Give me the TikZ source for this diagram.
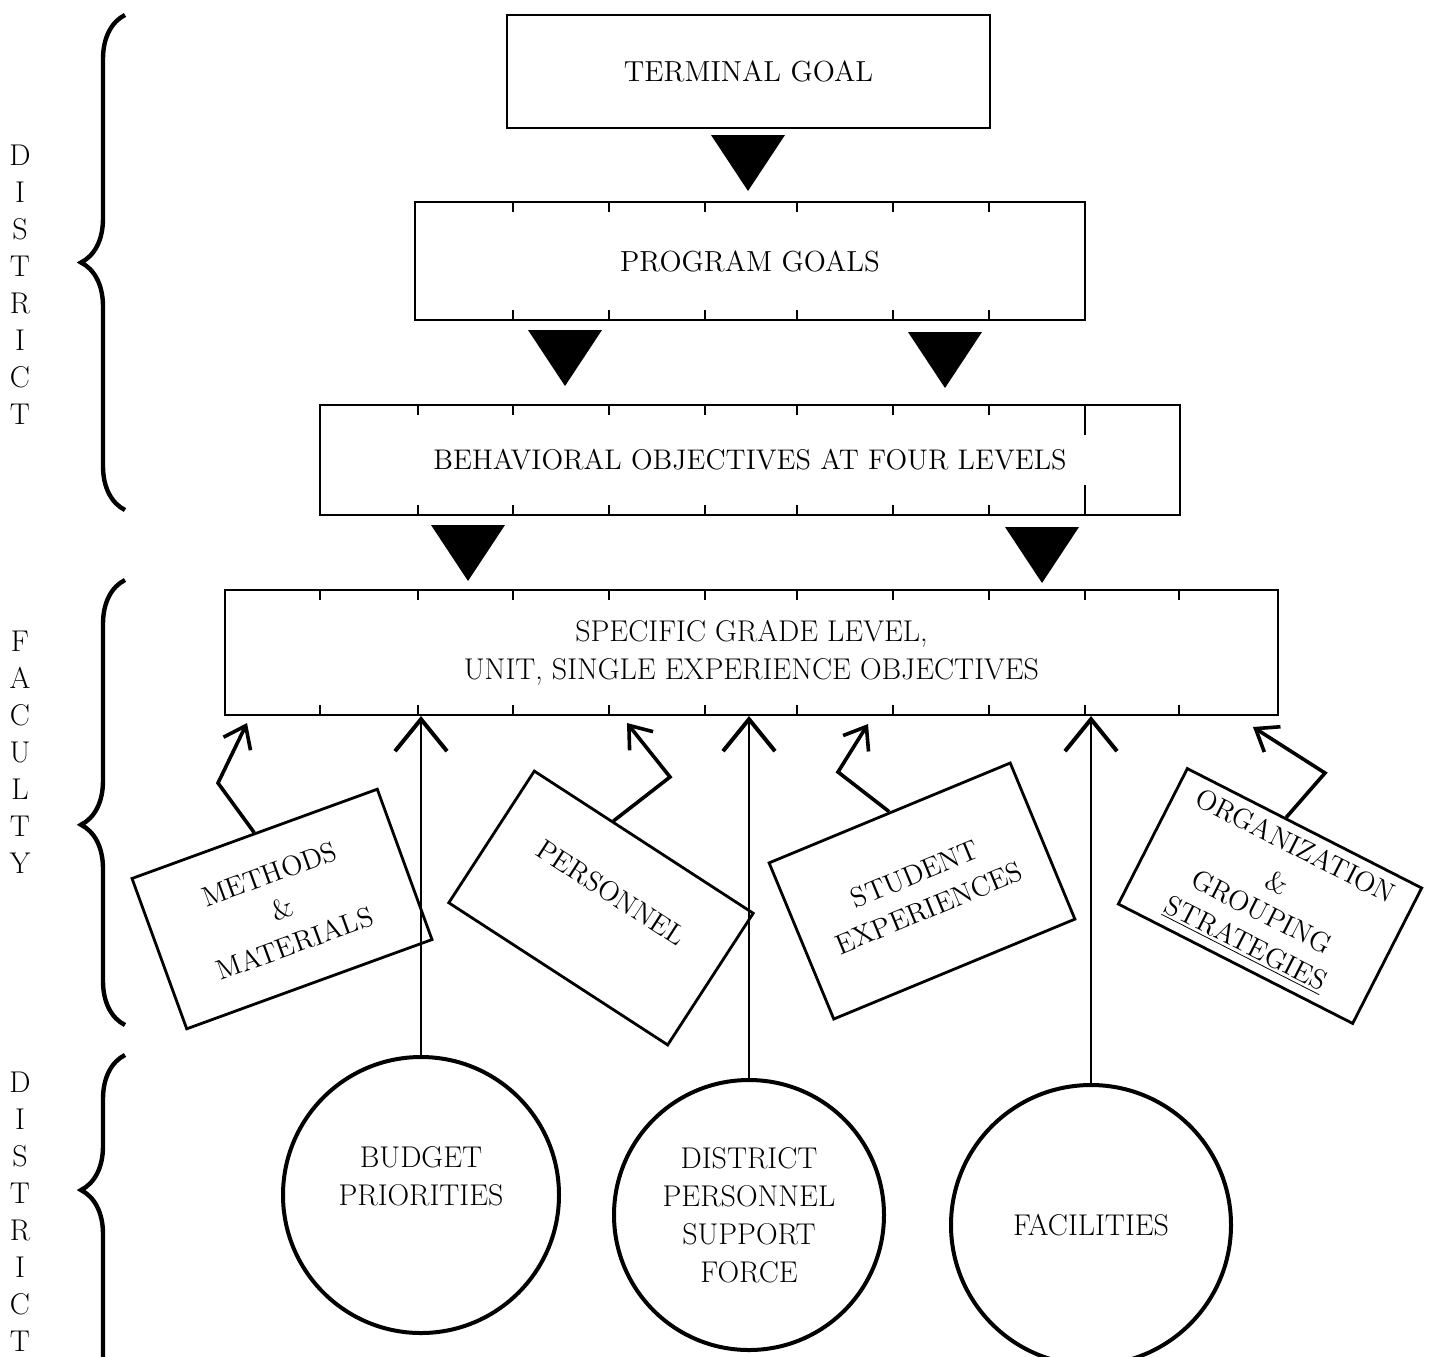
\documentclass[tikz,border=0pt]{standalone}
\usepackage{fontspec}
\usetikzlibrary{arrows.meta,decorations.pathreplacing,calc}
\newcommand\boxfont{\fontsize{14.5}{18.5}\selectfont}
\newcommand\widefont{\fontsize{15}{19}\selectfont}
\tikzset{
  goal/.style={draw, line width=1pt, inner sep=0pt, align=center, font=\boxfont},
  notch/.style={line width=1.3pt},
  tilted/.style={draw, line width=1.4pt, inner sep=0pt, align=center, font=\fontsize{14}{18.5}\selectfont},
  source/.style={draw, circle, line width=2pt, inner sep=0pt, align=center, font=\widefont},
  feed/.style={line width=1.8pt, -{Straight Barb[length=10pt,width=15pt]}},
  supply/.style={line width=1.1pt, -{Straight Barb[length=16pt,width=26pt,line width=2pt]}},
  bracket/.style={decorate, decoration={brace, amplitude=22pt}, line width=2.2pt},
  side/.style={align=center, inner sep=0pt, font=\fontsize{15}{18.5}\selectfont},
  tri/.pic={\fill (-37,0) -- (37,0) -- (0,56) -- cycle;}
}
\begin{document}
\begin{tikzpicture}[x=0.5pt, y=-0.5pt]
\useasboundingbox (0,0) rectangle (1429,1356);
% side labels and braces
\node[side] (dis1) at (20,285) {D\\I\\S\\T\\R\\I\\C\\T};
\node[side] (fac1) at (20,752) {F\\A\\C\\U\\L\\T\\Y};
\node[side] (dis2) at (20,1212) {D\\I\\S\\T\\R\\I\\C\\T};
\draw[bracket] (125,510) -- (125,15);
\draw[bracket, decoration={aspect=0.45}] (125,1025) -- (125,580);
\draw[bracket, decoration={aspect=0.63}] (125,1420) -- (125,1055);
% goal boxes
\node[goal, minimum width=241.5pt, minimum height=56.5pt] (tg) at (748.5,71.5) {TERMINAL GOAL};
\node[goal, minimum width=335pt, minimum height=59pt] (pg) at (750,261) {PROGRAM GOALS};
\node[goal, minimum width=430pt, minimum height=55pt, font=\fontsize{14.2}{18.5}\selectfont] (bo) at (750,460) {BEHAVIORAL OBJECTIVES AT FOUR LEVELS};
\node[goal, minimum width=526.5pt, minimum height=62.5pt, font=\widefont] (sg) at (751.5,652.5) {SPECIFIC GRADE LEVEL,\\UNIT, SINGLE EXPERIENCE OBJECTIVES};
\foreach \x in {513,609,705,797,893,989}
  \draw[notch] (\x,202) -- (\x,212) (\x,320) -- (\x,310);
\foreach \x in {418,513,609,705,797,893,989}
  \draw[notch] (\x,405) -- (\x,415) (\x,515) -- (\x,505);
\draw[notch] (1085,405) -- (1085,435) (1085,515) -- (1085,485);
\foreach \x in {320,418,513,609,705,797,893,989,1085,1179}
  \draw[notch] (\x,590) -- (\x,600) (\x,715) -- (\x,705);
% down triangles
\pic at (748,135) {tri};
\pic at (565,330) {tri};
\pic at (945,332) {tri};
\pic at (468,525) {tri};
\pic at (1042,527) {tri};
% faculty boxes
\node[tilted, minimum width=130.5pt, minimum height=80pt, rotate=20] (mm) at (282,909) {METHODS\\\&\\MATERIALS};
\node[tilted, minimum width=130.5pt, minimum height=78.5pt, rotate=-33] (pers) at (601,908) {PERSONNEL\\\mbox{}};
\node[tilted, minimum width=130.5pt, minimum height=84.5pt, rotate=22.5] (se) at (922,891) {STUDENT\\EXPERIENCES};
\node[tilted, minimum width=131.5pt, minimum height=76pt, rotate=-27] (org) at (1270,896) {ORGANIZATION\\[2pt]\&\\[-2pt]GROUPING\\[-1pt]\underline{STRATEGIES}};
% district resources
\node[source, minimum size=138pt] (bud) at (421,1195) {BUDGET\\PRIORITIES\\\mbox{}};
\node[source, minimum size=135pt] (dps) at (749,1215) {DISTRICT\\PERSONNEL\\SUPPORT\\FORCE};
\node[source, minimum size=140pt] (fcl) at (1091,1225) {FACILITIES};
\draw[supply] (bud) -- (bud |- sg.south);
\draw[supply] (dps) -- (dps |- sg.south);
\draw[supply] (fcl) -- (fcl |- sg.south);
% bent feeds
\coordinate (mmk) at (218,783); \coordinate (mmt) at (247,723);
\coordinate (pek) at (670,777); \coordinate (pet) at (627,723);
\coordinate (sek) at (838,772); \coordinate (set) at (868,724);
\coordinate (ogk) at (1325,773); \coordinate (ogt) at (1253,727);
\draw[feed] (mm.north) -- (mmk) -- (mmt);
\draw[feed] ($(pers.north west)!0.36!(pers.north east)$) -- (pek) -- (pet);
\draw[feed] (se.north) -- (sek) -- (set);
\draw[feed] ($(org.north west)!0.42!(org.north east)$) -- (ogk) -- (ogt);
\end{tikzpicture}
\end{document}
